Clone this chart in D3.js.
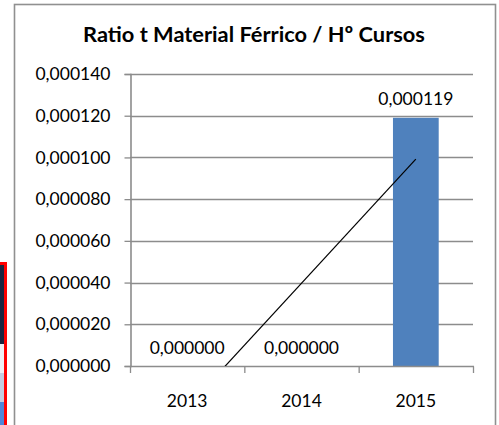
<!DOCTYPE html>
<html>
<head>
<meta charset="utf-8">
<script src="https://cdn.jsdelivr.net/npm/d3@7"></script>
<style>
  html, body { margin: 0; padding: 0; background: #fff; }
  svg { display: block; }
  text { font-family: Lato, "Open Sans", "Liberation Sans", sans-serif; fill: #000; }
</style>
</head>
<body>
<svg id="chart" width="499" height="425"></svg>
<script>
// Ratio of tonnes of ferrous material per course hour, by year
const years = ["2013", "2014", "2015"];
const ratios = [0.000000, 0.000000, 0.000119];
const yTicks = [0, 0.00002, 0.00004, 0.00006, 0.00008, 0.0001, 0.00012, 0.00014];
const title = "Ratio t Material Férrico / Hº Cursos";

const W = 499, H = 425;
const plot = { left: 130, right: 473, top: 74, bottom: 366 };
const svg = d3.select("#chart");

const fmt = v => d3.format(".6f")(v).replace(".", ",");

// edge of the adjacent panel on the far left
const edge = svg.append("g");
edge.append("rect").attr("x", 0).attr("y", 262).attr("width", 7).attr("height", H - 262).attr("fill", "#ff0000");
edge.append("rect").attr("x", 0).attr("y", 265).attr("width", 4).attr("height", 79).attr("fill", "#1b2640");
edge.append("rect").attr("x", 0).attr("y", 344).attr("width", 4).attr("height", 29).attr("fill", "#eef0f4");
edge.append("rect").attr("x", 0).attr("y", 373).attr("width", 4).attr("height", 29).attr("fill", "#c4cde0");
edge.append("rect").attr("x", 0).attr("y", 402).attr("width", 4).attr("height", H - 402).attr("fill", "#4f86d8");

// chart frame
svg.append("rect")
  .attr("x", 14.5).attr("y", 4.5).attr("width", 481).attr("height", H + 10)
  .attr("fill", "#fff").attr("stroke", "#909090").attr("stroke-width", 1.6);

// title
svg.append("text")
  .attr("x", 254).attr("y", 42)
  .attr("text-anchor", "middle")
  .attr("font-weight", "bold").attr("font-size", 21.8)
  .text(title);

const x = d3.scaleBand().domain(years).range([plot.left, plot.right]).paddingInner(0).paddingOuter(0);
const y = d3.scaleLinear().domain([0, 0.00014]).range([plot.bottom, plot.top]);

// horizontal gridlines
svg.append("g").selectAll("line").data(yTicks.filter(d => d > 0)).join("line")
  .attr("x1", plot.left).attr("x2", plot.right)
  .attr("y1", d => Math.round(y(d)) + 0.5).attr("y2", d => Math.round(y(d)) + 0.5)
  .attr("stroke", "#8c8c8c").attr("stroke-width", 1.3);

// y axis
const yAxis = svg.append("g")
  .attr("transform", `translate(${plot.left + 0.5},0)`)
  .call(d3.axisLeft(y).tickValues(yTicks).tickFormat(fmt).tickSize(6).tickPadding(14));
yAxis.select(".domain").attr("stroke", "#8c8c8c").attr("stroke-width", 1.6);
yAxis.selectAll(".tick line").attr("stroke", "#8c8c8c").attr("stroke-width", 1.3);
yAxis.selectAll(".tick text").attr("font-size", 17.5).attr("font-family", null).attr("fill", "#000");

// bars
svg.append("g").selectAll("rect").data(years).join("rect")
  .attr("x", (d, i) => x(d) + x.bandwidth() * 0.3)
  .attr("width", x.bandwidth() * 0.4)
  .attr("y", (d, i) => y(ratios[i]))
  .attr("height", (d, i) => y(0) - y(ratios[i]))
  .attr("fill", "#4f81bd");

// x axis with ticks at category boundaries
const xAxisG = svg.append("g").attr("transform", `translate(0,${plot.bottom + 0.5})`);
xAxisG.append("line")
  .attr("x1", plot.left).attr("x2", plot.right + 1)
  .attr("stroke", "#8c8c8c").attr("stroke-width", 1.6);
const bounds = years.map(d => x(d)).concat([plot.right]);
xAxisG.selectAll("line.tk").data(bounds).join("line").attr("class", "tk")
  .attr("x1", d => d + 0.5).attr("x2", d => d + 0.5)
  .attr("y1", 0).attr("y2", 6.5)
  .attr("stroke", "#8c8c8c").attr("stroke-width", 1.3);
xAxisG.selectAll("text").data(years).join("text")
  .attr("x", d => x(d) + x.bandwidth() / 2)
  .attr("y", 40)
  .attr("text-anchor", "middle")
  .attr("font-size", 17.5)
  .text(d => d);

// linear trendline over the series, clipped to the plot area
svg.append("clipPath").attr("id", "plotClip")
  .append("rect").attr("x", plot.left).attr("y", plot.top)
  .attr("width", plot.right - plot.left).attr("height", plot.bottom - plot.top);
const idx = ratios.map((d, i) => i + 1);
const mx = d3.mean(idx), my = d3.mean(ratios);
const slope = d3.sum(idx, (t, i) => (t - mx) * (ratios[i] - my)) / d3.sum(idx, t => (t - mx) ** 2);
const icpt = my - slope * mx;
const xPos = t => plot.left + (t - 0.5) * x.bandwidth();
svg.append("line")
  .attr("clip-path", "url(#plotClip)")
  .attr("x1", xPos(1)).attr("y1", y(icpt + slope * 1))
  .attr("x2", xPos(3)).attr("y2", y(icpt + slope * 3))
  .attr("stroke", "#000").attr("stroke-width", 1.2);

// value labels
svg.append("g").selectAll("text").data(years).join("text")
  .attr("x", d => x(d) + x.bandwidth() / 2)
  .attr("y", (d, i) => y(ratios[i]) - 12.5)
  .attr("text-anchor", "middle")
  .attr("font-size", 17.5)
  .text((d, i) => fmt(ratios[i]));
</script>
</body>
</html>
